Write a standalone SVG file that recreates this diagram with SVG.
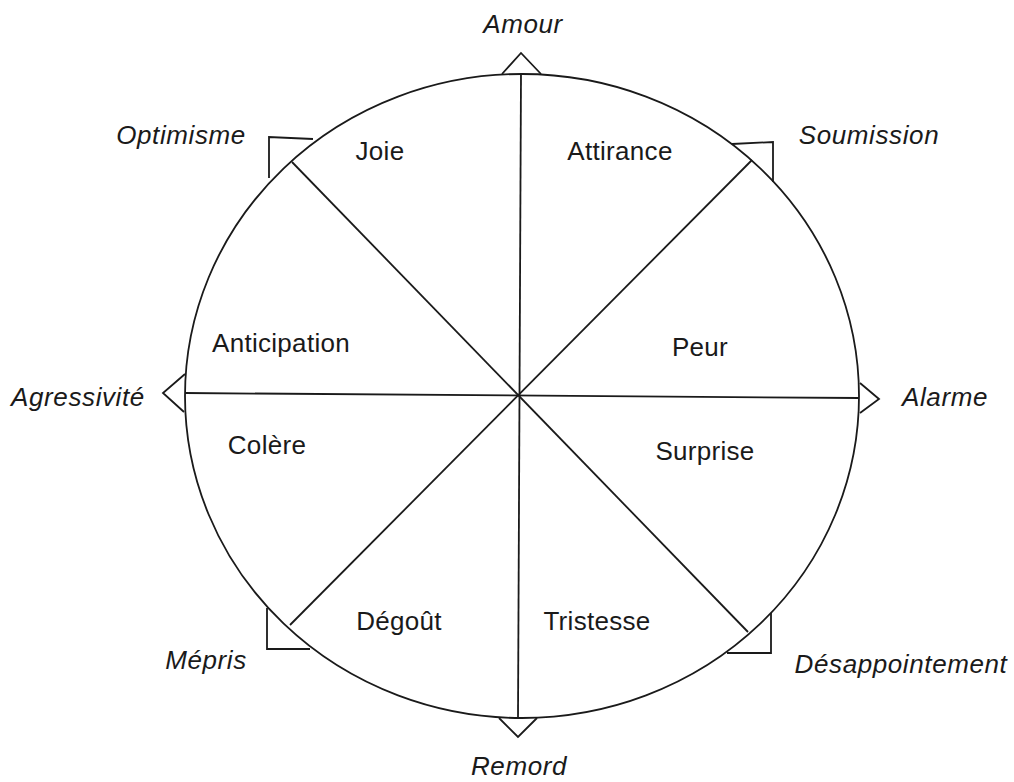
<svg xmlns="http://www.w3.org/2000/svg" width="1014" height="782" viewBox="0 0 1014 782">
<style>
.ln{fill:none;stroke:#1a1a1a;stroke-width:1.8;stroke-linejoin:miter}
.in{font-family:"Liberation Sans",Arial,sans-serif;font-size:26px;letter-spacing:0.3px;fill:#1a1a1a;text-anchor:middle}
.out{font-family:"Liberation Sans",Arial,sans-serif;font-size:26px;letter-spacing:0.6px;font-style:italic;fill:#1a1a1a;text-anchor:middle}
</style>
<rect width="1014" height="782" fill="#fff"/>
<g id="wheel">
<ellipse class="ln" cx="522" cy="396" rx="337" ry="322"/>
</g>
<g id="connectors">
<line class="ln" x1="521" y1="74" x2="518" y2="718"/>
<line class="ln" x1="185" y1="393" x2="859" y2="398"/>
<line class="ln" x1="292" y1="162" x2="748" y2="632"/>
<line class="ln" x1="752" y1="160" x2="290" y2="625"/>
</g>
<g id="markers">
<polyline class="ln" points="502,74 521,53 541,74"/>
<polyline class="ln" points="499,718 518,737 537,718"/>
<polyline class="ln" points="185,374 163,393 184,412"/>
<polyline class="ln" points="860,383 879,399 860,413"/>
<polyline class="ln" points="732,144 773,142 773,182"/>
<polyline class="ln" points="313,139 269,137 269,178"/>
<polyline class="ln" points="267,608 267,649 310,649"/>
<polyline class="ln" points="771,613 771,653 727,653"/>
</g>
<g id="sector-joie"><text class="in" x="380" y="160">Joie</text></g>
<g id="sector-attirance"><text class="in" x="620" y="160">Attirance</text></g>
<g id="sector-anticipation"><text class="in" x="281" y="352">Anticipation</text></g>
<g id="sector-peur"><text class="in" x="700" y="356">Peur</text></g>
<g id="sector-colere"><text class="in" x="267" y="454">Colère</text></g>
<g id="sector-surprise"><text class="in" x="705" y="460">Surprise</text></g>
<g id="sector-degout"><text class="in" x="399" y="630">Dégoût</text></g>
<g id="sector-tristesse"><text class="in" x="597" y="630">Tristesse</text></g>
<g id="label-amour"><text class="out" x="523" y="33">Amour</text></g>
<g id="label-optimisme"><text class="out" x="181" y="144">Optimisme</text></g>
<g id="label-soumission"><text class="out" x="869" y="144">Soumission</text></g>
<g id="label-agressivite"><text class="out" x="78" y="406">Agressivité</text></g>
<g id="label-alarme"><text class="out" x="945" y="406">Alarme</text></g>
<g id="label-mepris"><text class="out" x="206" y="669">Mépris</text></g>
<g id="label-desappointement"><text class="out" x="901" y="673">Désappointement</text></g>
<g id="label-remord"><text class="out" x="519" y="775">Remord</text></g>
</svg>
